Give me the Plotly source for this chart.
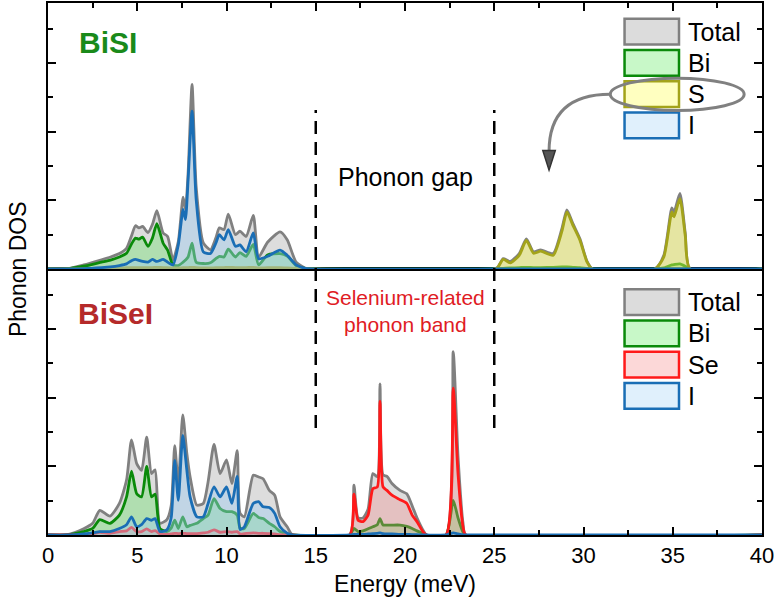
import plotly.graph_objects as go

# ---------------- data: BiSI (top panel) ----------------
E_top = [0, 1.0, 2.0, 3.0, 3.5, 4.0, 4.4, 4.7, 4.9, 5.1, 5.3, 5.6, 5.85, 6.1, 6.45, 6.7, 7.0, 7.3,
         7.57, 7.7, 7.85, 8.07, 8.3, 8.7, 9.1, 9.4, 9.6, 9.86, 10.1, 10.5, 10.75, 11.1, 11.5, 11.8,
         12.3, 13.0, 13.4, 13.9, 14.4, 14.8, 25.0, 25.2, 25.5, 25.9, 26.4, 26.8, 27.2, 27.6, 28.3,
         28.8, 29.07, 29.4, 29.8, 30.2, 30.5, 34.0, 34.5, 34.95, 35.07, 35.4, 35.7, 35.97, 40]
total_top = [0, 0, 0.12, 0.27, 0.35, 0.45, 0.6, 1.0, 1.26, 1.2, 1.24, 1.06, 1.3, 1.7, 1.05, 0.95, 0.27, 0.8,
             2.09, 1.74, 2.8, 5.38, 2.4, 0.76, 0.56, 0.9, 1.2, 1.15, 1.6, 1.0, 1.1, 0.95, 1.56, 0.35,
             0.78, 1.08, 0.85, 0.2, 0.03, 0, 0, 0.05, 0.3, 0.22, 0.45, 0.88, 0.5, 0.56, 0.45,
             1.2, 1.72, 1.33, 0.88, 0.22, 0, 0, 0.4, 1.78, 1.65, 2.2, 1.05, 0, 0]
bi_top = [0, 0, 0.08, 0.2, 0.26, 0.35, 0.46, 0.75, 0.9, 0.87, 0.93, 0.66, 0.9, 1.32, 0.75, 0.55, 0.12, 0.1,
          0.2, 0.26, 0.35, 0.75, 0.2, 0.16, 0.18, 0.3, 0.37, 0.35, 0.58, 0.35, 0.48, 0.37, 0.72, 0.12,
          0.41, 0.45, 0.38, 0.1, 0.02, 0, 0, 0, 0.02, 0.03, 0.04, 0.05, 0.04, 0.04, 0.05,
          0.06, 0.06, 0.05, 0.04, 0.01, 0, 0, 0.03, 0.12, 0.13, 0.15, 0.08, 0, 0]
s_top = [0, 0, 0.01, 0.02, 0.03, 0.03, 0.04, 0.04, 0.04, 0.04, 0.04, 0.04, 0.04, 0.05, 0.04, 0.04, 0.03, 0.03,
         0.04, 0.04, 0.04, 0.05, 0.04, 0.03, 0.03, 0.04, 0.04, 0.04, 0.05, 0.04, 0.04, 0.04, 0.05, 0.03,
         0.04, 0.04, 0.03, 0.02, 0.01, 0, 0, 0.05, 0.28, 0.18, 0.4, 0.83, 0.46, 0.52, 0.4,
         1.12, 1.66, 1.28, 0.84, 0.2, 0, 0, 0.35, 1.66, 1.52, 2.05, 0.97, 0, 0]
i_top = [0, 0, 0.01, 0.04, 0.06, 0.1, 0.15, 0.25, 0.28, 0.25, 0.22, 0.2, 0.28, 0.22, 0.28, 0.2, 0.12, 0.7,
         1.74, 1.44, 2.6, 4.6, 2.03, 0.5, 0.45, 0.75, 1.0, 0.85, 1.15, 0.66, 0.7, 0.5, 1.05, 0.3,
         0.37, 0.55, 0.4, 0.12, 0.02, 0, 0, 0, 0, 0, 0, 0, 0, 0, 0,
         0, 0, 0, 0, 0, 0, 0, 0, 0, 0, 0, 0, 0, 0]

# ---------------- data: BiSeI (bottom panel) ----------------
E_bot = [0, 1.0, 1.5, 2.0, 2.5, 2.9, 3.47, 4.0, 4.4, 4.68, 4.97, 5.24, 5.53, 5.8, 6.0, 6.27, 6.66, 6.9,
         7.1, 7.3, 7.55, 7.78, 7.96, 8.34, 8.7, 8.97, 9.3, 9.64, 10.0, 10.3, 10.6, 10.76, 11.0, 11.5,
         11.8, 12.05, 12.4, 12.7, 13.0, 13.4, 13.7, 16.9, 17.14, 17.37, 17.65, 17.93, 18.2, 18.45,
         18.6, 18.77, 18.99, 19.27, 19.72, 20.1, 20.4, 20.67, 21.0, 21.2, 22.3, 22.7, 22.97, 23.25,
         23.4, 40]
total_bot = [0, 0, 0.07, 0.18, 0.34, 0.72, 0.55, 0.92, 1.6, 2.77, 2.08, 1.88, 2.85, 1.79, 1.9, 0.34, 0.45, 0.85,
             2.6, 1.5, 3.5, 2.37, 1.7, 0.87, 0.92, 1.55, 2.64, 1.79, 2.19, 1.5, 2.46, 0.63, 0.53, 1.74,
             1.69, 1.64, 1.3, 1.16, 0.53, 0.24, 0, 0, 1.45, 0.5, 0.5, 0.75, 1.79, 1.7,
             4.4, 1.75, 1.71, 1.5, 1.3, 1.2, 0.85, 0.5, 0.15, 0, 0, 5.34, 2.3, 0.35,
             0, 0]
bi_bot = [0, 0, 0.04, 0.1, 0.19, 0.45, 0.34, 0.58, 1.11, 1.86, 1.2, 1.11, 2.0, 1.11, 1.19, 0.19, 0.1, 0.2,
          0.43, 0.19, 0.53, 0.24, 0.28, 0.34, 0.48, 0.58, 1.06, 0.77, 0.68, 0.68, 0.58, 0.19, 0.19, 0.63,
          0.51, 0.48, 0.34, 0.24, 0.1, 0.03, 0, 0, 0.19, 0.1, 0.12, 0.18, 0.24, 0.3,
          0.48, 0.29, 0.29, 0.29, 0.29, 0.25, 0.19, 0.12, 0.05, 0, 0, 1.01, 0.5, 0.08,
          0, 0]
se_bot = [0, 0, 0, 0.01, 0.03, 0.08, 0.05, 0.1, 0.12, 0.22, 0.1, 0.1, 0.18, 0.1, 0.13, 0.03, 0.02, 0.03,
          0.05, 0.04, 0.05, 0.04, 0.04, 0.04, 0.06, 0.08, 0.15, 0.08, 0.1, 0.08, 0.1, 0.03, 0.04, 0.06,
          0.05, 0.05, 0.04, 0.03, 0.01, 0, 0, 0, 1.19, 0.43, 0.39, 0.58, 1.35, 1.4,
          3.9, 1.4, 1.3, 1.16, 1.03, 0.92, 0.58, 0.39, 0.1, 0, 0, 4.28, 1.79, 0.24,
          0, 0]
i_bot = [0, 0, 0.01, 0.03, 0.06, 0.1, 0.1, 0.19, 0.3, 0.53, 0.24, 0.3, 0.48, 0.43, 0.48, 0.1, 0.15, 0.5,
         2.17, 1.01, 2.9, 1.88, 1.11, 0.53, 0.53, 0.92, 1.4, 1.11, 1.4, 0.92, 1.71, 0.16, 0.24, 0.92,
         0.97, 0.82, 0.8, 0.63, 0.24, 0.05, 0, 0, 0.02, 0.02, 0.02, 0.03, 0.04, 0.05,
         0.06, 0.04, 0.03, 0.03, 0.02, 0.02, 0.01, 0.01, 0, 0, 0, 0.06, 0.03, 0,
         0, 0]

x_tick_vals = [0, 5, 10, 15, 20, 25, 30, 35, 40]
gap_edges = [15, 25]

FONT = "Liberation Sans, Arial, Helvetica, sans-serif"

# style per series: (line colour, fill colour in plot, legend swatch fill)
STY = {
    "Total": ("#808080", "rgba(170,170,170,0.40)", "#dcdcdc"),
    "Bi": ("#0a8a0a", "rgba(110,225,110,0.40)", "#c8f8c8"),
    "S": ("#a3a31a", "rgba(240,240,90,0.45)", "#ffffc0"),
    "Se": ("#ff1a1a", "rgba(240,140,140,0.35)", "#fcd8d8"),
    "I": ("#1a6eb5", "rgba(160,205,240,0.45)", "#e0f0fc"),
}

fig = go.Figure()

def add(E, vals, name, xa, ya):
    lc, fc, _ = STY[name]
    fig.add_trace(go.Scatter(
        x=E, y=vals, mode="lines", name=name, xaxis=xa, yaxis=ya,
        line=dict(color=lc, width=2.8, shape="spline", smoothing=0.6),
        fill="tozeroy", fillcolor=fc, showlegend=False, hoverinfo="skip"))

for vals, nm in [(total_top, "Total"), (bi_top, "Bi"), (s_top, "S"), (i_top, "I")]:
    add(E_top, vals, nm, "x2", "y2")
for vals, nm in [(total_bot, "Total"), (bi_bot, "Bi"), (se_bot, "Se"), (i_bot, "I")]:
    add(E_bot, vals, nm, "x", "y")

shapes = []
annotations = []

# dashed lines bounding the phonon gap
for xg in gap_edges:
    shapes.append(dict(type="line", xref="x", yref="paper", x0=xg, x1=xg, y0=0.201, y1=0.799,
                       line=dict(color="black", width=2.5, dash="13px,8px")))

# custom legends
def legend(names, xr, yr, top, step):
    for k, nm in enumerate(names):
        lc, _, sw = STY[nm]
        y1 = top - k * step
        y0 = y1 - 0.75
        shapes.append(dict(type="rect", xref=xr, yref=yr, x0=32.3, x1=35.35, y0=y0, y1=y1,
                           fillcolor=sw, line=dict(color=lc, width=2.5)))
        annotations.append(dict(x=35.75, y=(y0 + y1) / 2, xref=xr, yref=yr, text=nm, showarrow=False,
                                xanchor="left", yanchor="middle", font=dict(size=25, color="black", family=FONT)))

legend(["Total", "Bi", "S", "I"], "x2", "y2", 7.29, 0.91)
legend(["Total", "Bi", "Se", "I"], "x", "y", 7.16, 0.91)

# ellipse around S legend entry and curved arrow
shapes.append(dict(type="circle", xref="x2", yref="y2", x0=31.5, x1=39.0, y0=4.62, y1=5.56,
                   line=dict(color="#808080", width=3)))
shapes.append(dict(type="path", xref="x2", yref="y2", path="M 31.5,5.09 Q 28.07,5.09 28.07,3.42",
                   line=dict(color="#808080", width=3)))
shapes.append(dict(type="path", xref="x2", yref="y2", path="M 27.72,3.45 L 28.42,3.45 L 28.07,2.88 Z",
                   fillcolor="#555555", line=dict(color="#333333", width=1.5)))

# text labels
annotations += [
    dict(x=3.36, y=6.59, xref="x2", yref="y2", text="<b>BiSI</b>", showarrow=False,
         font=dict(size=30, color="#1a8a1a", family=FONT)),
    dict(x=3.8, y=6.46, xref="x", yref="y", text="<b>BiSeI</b>", showarrow=False,
         font=dict(size=30, color="#b52a2a", family=FONT)),
    dict(x=20, y=2.68, xref="x2", yref="y2", text="Phonon gap", showarrow=False,
         font=dict(size=25, color="black", family=FONT)),
    dict(x=20, y=6.54, xref="x", yref="y", text="Selenium-related<br>phonon band", showarrow=False,
         align="center", font=dict(size=21, color="#e01b24", family=FONT)),
    dict(x=-0.042, y=0.5, xref="paper", yref="paper", text="Phonon DOS", showarrow=False,
         xanchor="center", yanchor="middle",
         textangle=-90, font=dict(size=23, color="black", family=FONT)),
]

yax = dict(range=[0, 7.75], dtick=2, ticks="inside", ticklen=8, tickwidth=2, tickcolor="black",
           showticklabels=False, showline=True, linewidth=2, linecolor="black", mirror="ticks",
           showgrid=False, zeroline=False,
           minor=dict(dtick=1, ticks="inside", ticklen=5, tickwidth=2, tickcolor="black"))
xax_common = dict(range=[0, 40], tickvals=x_tick_vals, ticks="inside", ticklen=8, tickwidth=2,
                  tickcolor="black", showline=True, linewidth=2, linecolor="black", mirror=True,
                  showgrid=False, zeroline=False,
                  minor=dict(dtick=2.5, ticks="inside", ticklen=5, tickwidth=2, tickcolor="black"))

fig.update_layout(
    width=778, height=610,
    margin=dict(l=48, r=16, t=3, b=75),
    paper_bgcolor="white", plot_bgcolor="white",
    font=dict(family=FONT, color="black"),
    xaxis=dict(**xax_common, domain=[0, 1], anchor="y", showticklabels=True,
               tickfont=dict(size=22, family=FONT),
               title=dict(text="Energy (meV)", font=dict(size=23, family=FONT), standoff=8)),
    yaxis=dict(**yax, domain=[0, 0.5], anchor="x"),
    xaxis2=dict(**xax_common, domain=[0, 1], anchor="y2", side="top", showticklabels=False),
    yaxis2=dict(**yax, domain=[0.5, 1], anchor="x2"),
    shapes=shapes, annotations=annotations, showlegend=False,
)

fig.write_html("out.html", config={"displayModeBar": False},
               post_script="document.body.style.margin='0';")
